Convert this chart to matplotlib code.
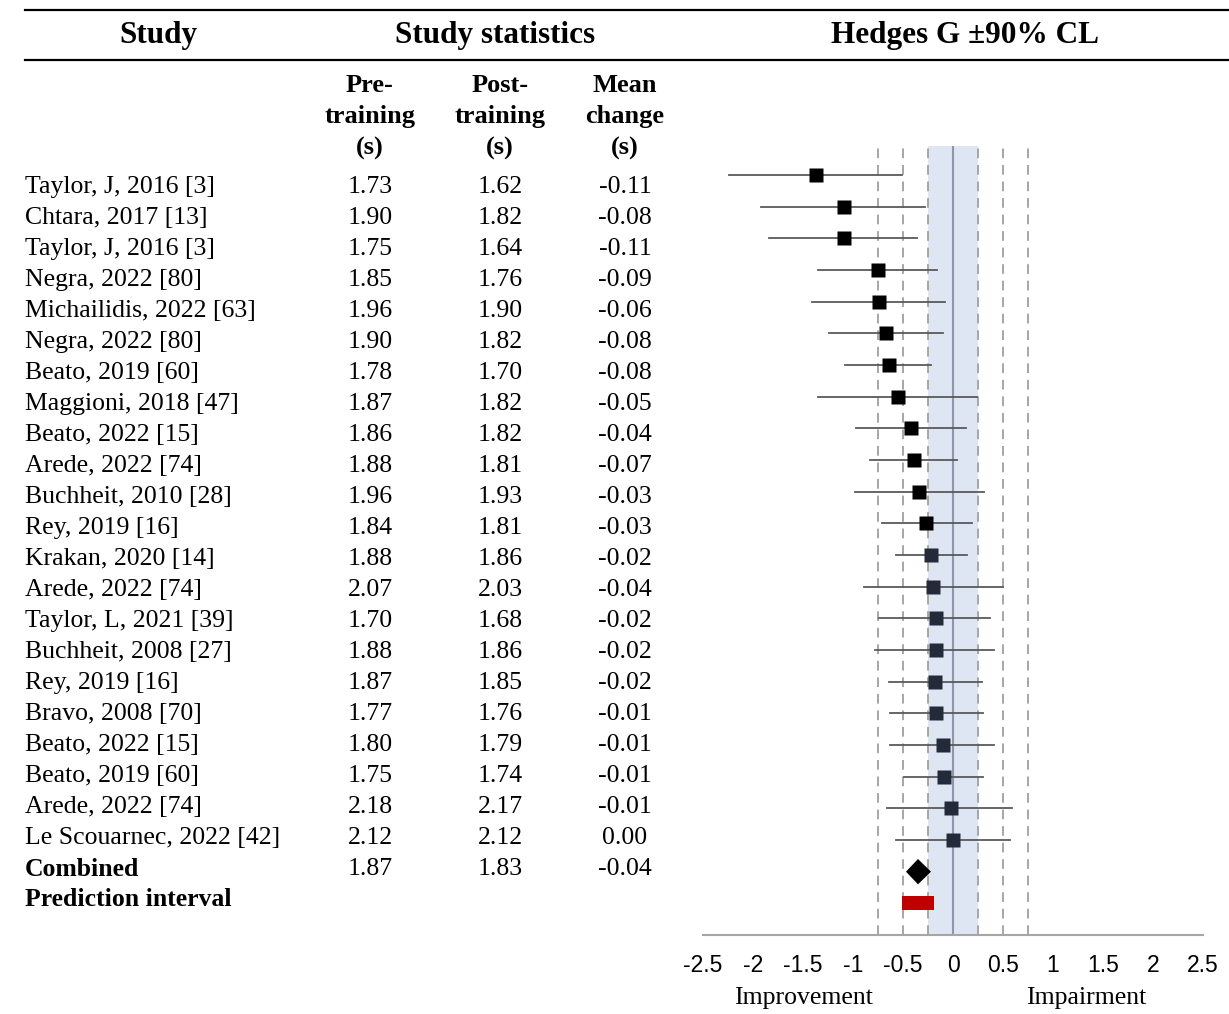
import matplotlib

matplotlib.use("Agg")
import matplotlib.pyplot as plt

# study table
studies = [
    "Taylor, J, 2016 [3]", "Chtara, 2017 [13]", "Taylor, J, 2016 [3]", "Negra, 2022 [80]",
    "Michailidis, 2022 [63]", "Negra, 2022 [80]", "Beato, 2019 [60]", "Maggioni, 2018 [47]",
    "Beato, 2022 [15]", "Arede, 2022 [74]", "Buchheit, 2010 [28]", "Rey, 2019 [16]",
    "Krakan, 2020 [14]", "Arede, 2022 [74]", "Taylor, L, 2021 [39]", "Buchheit, 2008 [27]",
    "Rey, 2019 [16]", "Bravo, 2008 [70]", "Beato, 2022 [15]", "Beato, 2019 [60]",
    "Arede, 2022 [74]", "Le Scouarnec, 2022 [42]",
]
pre = [1.73, 1.90, 1.75, 1.85, 1.96, 1.90, 1.78, 1.87, 1.86, 1.88, 1.96,
       1.84, 1.88, 2.07, 1.70, 1.88, 1.87, 1.77, 1.80, 1.75, 2.18, 2.12]
post = [1.62, 1.82, 1.64, 1.76, 1.90, 1.82, 1.70, 1.82, 1.82, 1.81, 1.93,
        1.81, 1.86, 2.03, 1.68, 1.86, 1.85, 1.76, 1.79, 1.74, 2.17, 2.12]
change = [-0.11, -0.08, -0.11, -0.09, -0.06, -0.08, -0.08, -0.05, -0.04, -0.07, -0.03,
          -0.03, -0.02, -0.04, -0.02, -0.02, -0.02, -0.01, -0.01, -0.01, -0.01, 0.00]
combined_stats = [1.87, 1.83, -0.04]

# hedges g with 90% CL
g = [-1.37, -1.09, -1.09, -0.75, -0.74, -0.67, -0.64, -0.55, -0.42, -0.39, -0.34,
     -0.27, -0.22, -0.20, -0.17, -0.17, -0.18, -0.17, -0.10, -0.09, -0.02, 0.00]
g_lo = [-2.24, -1.92, -1.84, -1.35, -1.41, -1.24, -1.08, -1.35, -0.97, -0.83, -0.98,
        -0.71, -0.57, -0.89, -0.74, -0.78, -0.64, -0.63, -0.63, -0.49, -0.66, -0.57]
g_hi = [-0.51, -0.28, -0.36, -0.16, -0.08, -0.10, -0.22, 0.24, 0.13, 0.04, 0.31,
        0.19, 0.14, 0.50, 0.37, 0.41, 0.29, 0.30, 0.41, 0.30, 0.59, 0.57]
combined_g, combined_lo, combined_hi = -0.35, -0.47, -0.22
pred_lo, pred_hi = -0.51, -0.19
thresholds = [-0.75, -0.5, -0.25, 0.25, 0.5, 0.75]
trivial = (-0.25, 0.25)
xticks = [-2.5, -2, -1.5, -1, -0.5, 0, 0.5, 1, 1.5, 2, 2.5]

SERIF = "Liberation Serif"
SANS = "Liberation Sans"
W, H = 1229, 1014

fig = plt.figure(figsize=(W / 100, H / 100), dpi=100)

# table layer in pixel coords
ax_t = fig.add_axes([0, 0, 1, 1])
ax_t.set_xlim(0, W)
ax_t.set_ylim(H, 0)
ax_t.axis("off")

ax_t.plot([25, W], [10, 10], color="black", lw=1.6)
ax_t.plot([25, W], [60, 60], color="black", lw=1.6)
hdr = dict(family=SERIF, weight="bold", fontsize=22.5, ha="center", va="center")
ax_t.text(158, 36, "Study", **hdr)
ax_t.text(495, 36, "Study statistics", **hdr)
ax_t.text(965, 36, "Hedges G ±90% CL", **hdr)

cols = [370, 500, 625]
sub = dict(family=SERIF, weight="bold", fontsize=19, ha="center", va="center")
for x, lab in zip(cols, ["Pre-\ntraining\n(s)", "Post-\ntraining\n(s)", "Mean\nchange\n(s)"]):
    for j, line in enumerate(lab.split("\n")):
        ax_t.text(x, 86 + 31 * j, line, **sub)

body = dict(family=SERIF, fontsize=18.5, va="center")
row_y = [187 + 31 * i for i in range(len(studies) + 2)]
for i, name in enumerate(studies):
    y = row_y[i]
    ax_t.text(25, y, name, ha="left", **body)
    for x, v in zip(cols, [pre[i], post[i], change[i]]):
        ax_t.text(x, y, f"{v:.2f}", ha="center", **body)
yc = row_y[len(studies)]
ax_t.text(25, yc, "Combined", ha="left", weight="bold", **body)
for x, v in zip(cols, combined_stats):
    ax_t.text(x, yc, f"{v:.2f}", ha="center", **body)
ax_t.text(25, row_y[len(studies) + 1], "Prediction interval", ha="left", weight="bold", **body)

# forest plot
ax = fig.add_axes([703 / W, 1 - 935 / H, 500 / W, (935 - 146) / H])
ax.set_xlim(-2.5, 2.5)
ax.set_ylim(24.0, -0.916)
ax.axvspan(*trivial, color="#dfe6f3", zorder=0, lw=0)
for t in thresholds:
    ax.axvline(t, color="#a6a6a6", lw=1.4, ls=(0, (5, 3.5)), zorder=1)
ax.axvline(0, color="#8c97aa", lw=1.5, zorder=1)

for i in range(len(g)):
    ax.plot([g_lo[i], g_hi[i]], [i, i], color="#5a5a5a", lw=1.3, zorder=2)
    ax.plot(g[i], i, marker="s", ms=9.5, color="black" if i < 12 else "#232a3a",
            mec="none", zorder=3)
n = len(g)
ax.fill([combined_lo, combined_g, combined_hi, combined_g],
        [n, n - 0.4, n, n + 0.4], color="black", zorder=3, lw=0)
ax.fill_between([pred_lo, pred_hi], n + 1 - 0.22, n + 1 + 0.22, color="#c00000",
                zorder=3, lw=0)

for s in ["top", "right", "left"]:
    ax.spines[s].set_visible(False)
ax.spines["bottom"].set_color("#a6a6a6")
ax.spines["bottom"].set_linewidth(1.5)
ax.set_yticks([])
ax.set_xticks(xticks)
ax.set_xticklabels([f"{v:g}" for v in xticks], family=SANS, fontsize=16.5)
ax.tick_params(axis="x", length=0, pad=14)
ax.text(-1.5, -0.066, "Improvement", transform=ax.get_xaxis_transform(),
        family=SERIF, fontsize=18.5, ha="center", va="top")
ax.text(1.33, -0.066, "Impairment", transform=ax.get_xaxis_transform(),
        family=SERIF, fontsize=18.5, ha="center", va="top")

fig.savefig("out.png", dpi=100)
